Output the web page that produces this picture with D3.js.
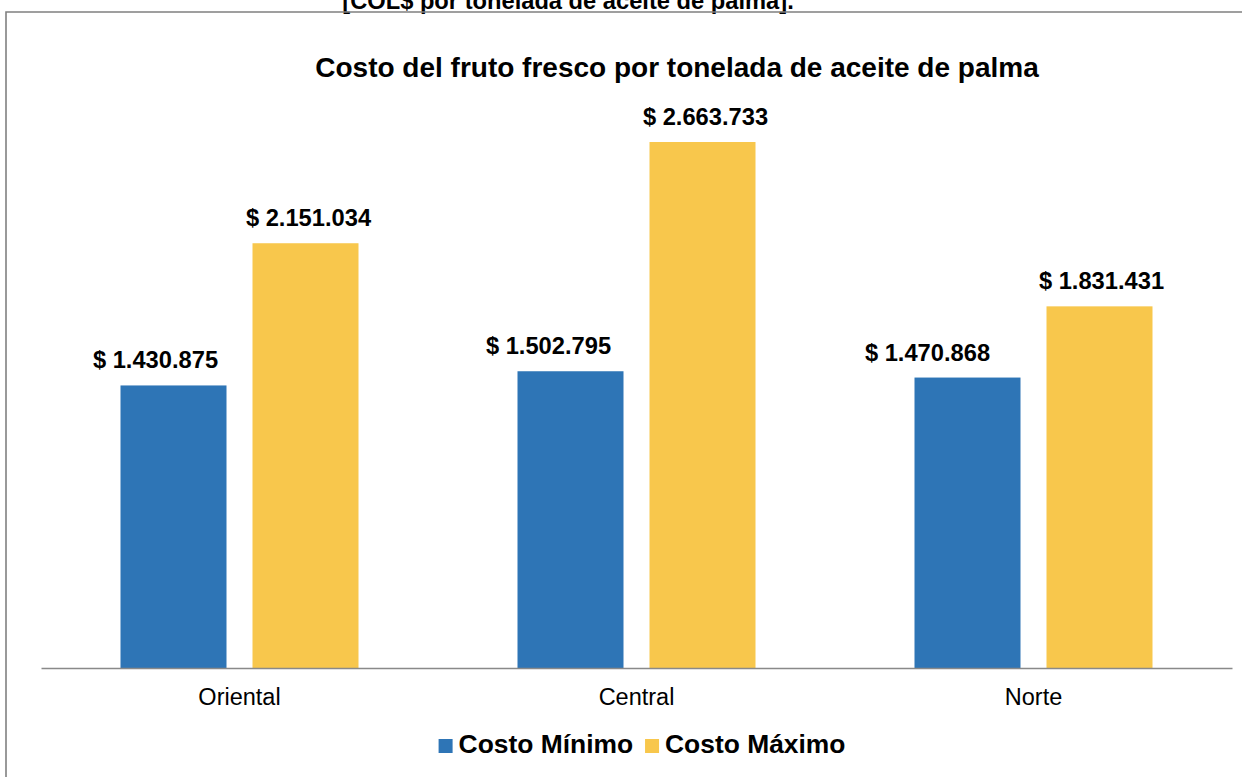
<!DOCTYPE html>
<html>
<head>
<meta charset="utf-8">
<script src="https://cdn.jsdelivr.net/npm/d3@7"></script>
<style>
  html, body { margin: 0; padding: 0; background: #ffffff; }
  svg { display: block; font-family: "Liberation Sans", Arial, sans-serif; }
</style>
</head>
<body>
<svg id="chart" width="1242" height="777"></svg>
<script>
// Regions and cost series (COL$ per tonne of palm oil)
const regions = ["Oriental", "Central", "Norte"];
const seriesNames = ["Costo Mínimo", "Costo Máximo"];
const costoMinimo = [1430875, 1502795, 1470868];
const costoMaximo = [2151034, 2663733, 1831431];
const seriesColors = ["#2E75B6", "#F8C74C"];

// Horizontal nudges for the value labels (px), per series
const labelNudgeMin = [-18, -22, -40];
const labelNudgeMax = [3, 3, 2];

const chartTitle = "Costo del fruto fresco por tonelada de aceite de palma";
const captionAbove = "[COL$ por tonelada de aceite de palma].";

const fmt = v => "$ " + d3.format(",")(v).replace(/,/g, ".");

const svg = d3.select("#chart");
const W = 1242, H = 777;

// Caption of the figure, running past the top of the page
svg.append("text")
  .attr("x", 568).attr("y", 9)
  .attr("text-anchor", "middle")
  .attr("font-weight", "bold")
  .attr("font-size", 23.7)
  .attr("fill", "#000")
  .text(captionAbove);

// Chart frame
svg.append("path")
  .attr("d", `M6,${H + 2} L6,12 L${W + 2},12`)
  .attr("fill", "none")
  .attr("stroke", "#808080")
  .attr("stroke-width", 1.6);

// Plot area
const plot = { left: 41, right: 1232, bottom: 668 };

const x0 = d3.scaleBand()
  .domain(regions)
  .range([plot.left, plot.right])
  .paddingInner(0)
  .paddingOuter(0);

const groupWidth = 238;
const x1 = d3.scaleBand()
  .domain(seriesNames)
  .range([0, groupWidth])
  .paddingInner(26 / 132)
  .paddingOuter(0);

const y = d3.scaleLinear()
  .domain([0, 3000000])
  .range([plot.bottom, plot.bottom - 592.4]);

const rows = regions.map((r, i) => ({
  region: r,
  values: [
    { series: seriesNames[0], value: costoMinimo[i], color: seriesColors[0], nudge: labelNudgeMin[i] },
    { series: seriesNames[1], value: costoMaximo[i], color: seriesColors[1], nudge: labelNudgeMax[i] }
  ]
}));

// Title
svg.append("text")
  .attr("x", 677).attr("y", 77)
  .attr("text-anchor", "middle")
  .attr("font-weight", "bold")
  .attr("font-size", 28)
  .attr("fill", "#000")
  .text(chartTitle);

// Bars
const groups = svg.append("g").selectAll("g")
  .data(rows)
  .join("g")
  .attr("transform", d => `translate(${x0(d.region) + (x0.bandwidth() - groupWidth) / 2},0)`);

groups.selectAll("rect")
  .data(d => d.values)
  .join("rect")
  .attr("x", d => x1(d.series))
  .attr("y", d => y(d.value))
  .attr("width", x1.bandwidth())
  .attr("height", d => y(0) - y(d.value))
  .attr("fill", d => d.color);

// Value labels
groups.selectAll("text.value")
  .data(d => d.values)
  .join("text")
  .attr("class", "value")
  .attr("x", d => x1(d.series) + x1.bandwidth() / 2 + d.nudge)
  .attr("y", d => y(d.value) - 17)
  .attr("text-anchor", "middle")
  .attr("font-weight", "bold")
  .attr("font-size", 23.7)
  .attr("fill", "#000")
  .text(d => fmt(d.value));

// Category axis
const xAxis = svg.append("g")
  .attr("transform", `translate(0,${plot.bottom})`)
  .call(d3.axisBottom(x0).tickSize(0).tickPadding(0));
xAxis.select(".domain")
  .attr("stroke", "#898989")
  .attr("stroke-width", 1.6);
xAxis.selectAll(".tick text")
  .attr("y", 37)
  .attr("dy", 0)
  .attr("font-size", 23.5)
  .attr("font-family", "Liberation Sans, Arial, sans-serif")
  .attr("fill", "#000");

// Legend
const legend = svg.append("g");
const items = legend.selectAll("g")
  .data(seriesNames)
  .join("g");
items.append("rect")
  .attr("width", 14).attr("height", 14)
  .attr("y", 739)
  .attr("fill", (d, i) => seriesColors[i]);
items.append("text")
  .attr("x", 20)
  .attr("y", 753)
  .attr("font-weight", "bold")
  .attr("font-size", 26.4)
  .attr("fill", "#000")
  .text(d => d);

const widths = [];
items.each(function () {
  widths.push(20 + this.querySelector("text").getComputedTextLength());
});
const gap = 12;
const total = widths.reduce((a, b) => a + b, 0) + gap * (widths.length - 1);
let startX = 642 - total / 2;
items.attr("transform", (d, i) => {
  const tx = startX;
  startX += widths[i] + gap;
  return `translate(${tx},0)`;
});
</script>
</body>
</html>
